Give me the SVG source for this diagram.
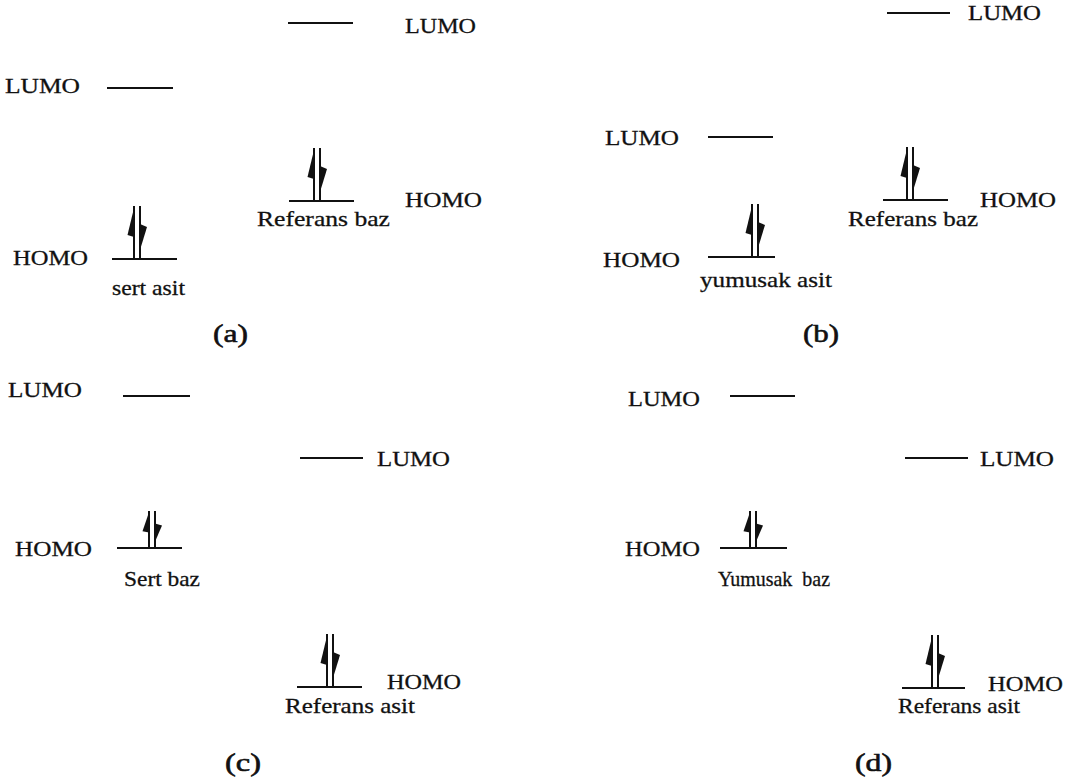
<svg xmlns="http://www.w3.org/2000/svg" xmlns:xlink="http://www.w3.org/1999/xlink" width="1068" height="780" viewBox="0 0 1068 780">
  <style>
    text { font-family: "Liberation Serif", "Times New Roman", serif; font-size: 22px; fill: #111; stroke: #111; stroke-width: 0.3; }
    .cap { font-size: 26px; stroke-width: 0.6; }
    .lvl { stroke: #111; stroke-width: 2; fill: none; }
    .spin { stroke: #111; stroke-width: 2; }
    .barb { fill: #111; stroke: none; }
  </style>
  <defs>
    <!-- electron pair: up and down half-arrows, origin at centre of the level line -->
    <g id="pair">
      <line class="spin" x1="-3" y1="0" x2="-3" y2="-53"/>
      <polygon class="barb" points="-3,-51 -9.5,-24 -3,-22"/>
      <line class="spin" x1="3" y1="-53" x2="3" y2="0"/>
      <polygon class="barb" points="3,-35 10,-32 3,-9"/>
    </g>
  </defs>
  <rect width="1068" height="780" fill="#fff"/>

  <!-- (a) hard acid vs reference base -->
  <g id="a-base-lumo">
    <line class="lvl" x1="288" y1="23" x2="353" y2="23"/>
    <text x="405" y="33" textLength="71" lengthAdjust="spacingAndGlyphs">LUMO</text>
  </g>
  <g id="a-acid-lumo">
    <text x="5" y="93" textLength="75" lengthAdjust="spacingAndGlyphs">LUMO</text>
    <line class="lvl" x1="107" y1="88" x2="173" y2="88"/>
  </g>
  <g id="a-base-homo">
    <line class="lvl" x1="289" y1="201" x2="354" y2="201"/>
    <use xlink:href="#pair" x="317" y="201"/>
    <text x="405" y="207" textLength="77" lengthAdjust="spacingAndGlyphs">HOMO</text>
    <text x="257" y="226" textLength="133" lengthAdjust="spacingAndGlyphs">Referans baz</text>
  </g>
  <g id="a-acid-homo">
    <text x="13" y="265" textLength="75" lengthAdjust="spacingAndGlyphs">HOMO</text>
    <line class="lvl" x1="112" y1="259" x2="177" y2="259"/>
    <use xlink:href="#pair" x="137" y="259"/>
    <text x="112" y="295" textLength="73" lengthAdjust="spacingAndGlyphs">sert asit</text>
  </g>
  <g id="a-caption">
    <text class="cap" x="213" y="342" textLength="35" lengthAdjust="spacingAndGlyphs">(a)</text>
  </g>

  <!-- (b) soft acid vs reference base -->
  <g id="b-base-lumo">
    <line class="lvl" x1="887" y1="13" x2="950" y2="13"/>
    <text x="968" y="20" textLength="73" lengthAdjust="spacingAndGlyphs">LUMO</text>
  </g>
  <g id="b-acid-lumo">
    <text x="605" y="145" textLength="74" lengthAdjust="spacingAndGlyphs">LUMO</text>
    <line class="lvl" x1="708" y1="137" x2="773" y2="137"/>
  </g>
  <g id="b-base-homo">
    <line class="lvl" x1="883" y1="200" x2="948" y2="200"/>
    <use xlink:href="#pair" x="910" y="200"/>
    <text x="980" y="207" textLength="76" lengthAdjust="spacingAndGlyphs">HOMO</text>
    <text x="848" y="226" textLength="130" lengthAdjust="spacingAndGlyphs">Referans baz</text>
  </g>
  <g id="b-acid-homo">
    <text x="603" y="267" textLength="77" lengthAdjust="spacingAndGlyphs">HOMO</text>
    <line class="lvl" x1="708" y1="257" x2="775" y2="257"/>
    <use xlink:href="#pair" x="755" y="257"/>
    <text x="700" y="287" textLength="132" lengthAdjust="spacingAndGlyphs">yumusak asit</text>
  </g>
  <g id="b-caption">
    <text class="cap" x="803" y="342" textLength="36" lengthAdjust="spacingAndGlyphs">(b)</text>
  </g>

  <!-- (c) hard base vs reference acid -->
  <g id="c-base-lumo">
    <text x="8" y="397" textLength="74" lengthAdjust="spacingAndGlyphs">LUMO</text>
    <line class="lvl" x1="123" y1="396" x2="190" y2="396"/>
  </g>
  <g id="c-acid-lumo">
    <line class="lvl" x1="300" y1="458" x2="363" y2="458"/>
    <text x="377" y="466" textLength="73" lengthAdjust="spacingAndGlyphs">LUMO</text>
  </g>
  <g id="c-base-homo">
    <text x="15" y="556" textLength="77" lengthAdjust="spacingAndGlyphs">HOMO</text>
    <line class="lvl" x1="117" y1="548" x2="182" y2="548"/>
    <use xlink:href="#pair" transform="translate(152,548) scale(1,0.7)"/>
    <text x="124" y="586" textLength="76" lengthAdjust="spacingAndGlyphs">Sert baz</text>
  </g>
  <g id="c-acid-homo">
    <line class="lvl" x1="297" y1="687" x2="362" y2="687"/>
    <use xlink:href="#pair" x="330" y="687"/>
    <text x="387" y="689" textLength="74" lengthAdjust="spacingAndGlyphs">HOMO</text>
    <text x="285" y="713" textLength="130" lengthAdjust="spacingAndGlyphs">Referans asit</text>
  </g>
  <g id="c-caption">
    <text class="cap" x="225" y="771" textLength="36" lengthAdjust="spacingAndGlyphs">(c)</text>
  </g>

  <!-- (d) soft base vs reference acid -->
  <g id="d-base-lumo">
    <text x="628" y="406" textLength="72" lengthAdjust="spacingAndGlyphs">LUMO</text>
    <line class="lvl" x1="730" y1="396" x2="795" y2="396"/>
  </g>
  <g id="d-acid-lumo">
    <line class="lvl" x1="905" y1="458" x2="968" y2="458"/>
    <text x="980" y="466" textLength="74" lengthAdjust="spacingAndGlyphs">LUMO</text>
  </g>
  <g id="d-base-homo">
    <text x="625" y="556" textLength="75" lengthAdjust="spacingAndGlyphs">HOMO</text>
    <line class="lvl" x1="720" y1="548" x2="787" y2="548"/>
    <use xlink:href="#pair" transform="translate(753,548) scale(1,0.7)"/>
    <text x="718" y="586" textLength="112" lengthAdjust="spacingAndGlyphs" xml:space="preserve">Yumusak  baz</text>
  </g>
  <g id="d-acid-homo">
    <line class="lvl" x1="902" y1="688" x2="965" y2="688"/>
    <use xlink:href="#pair" x="935" y="688"/>
    <text x="988" y="691" textLength="75" lengthAdjust="spacingAndGlyphs">HOMO</text>
    <text x="898" y="713" textLength="122" lengthAdjust="spacingAndGlyphs">Referans asit</text>
  </g>
  <g id="d-caption">
    <text class="cap" x="855" y="771" textLength="37" lengthAdjust="spacingAndGlyphs">(d)</text>
  </g>
</svg>
